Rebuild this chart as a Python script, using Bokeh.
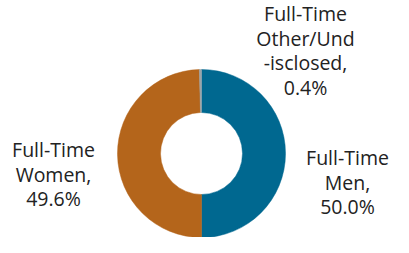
import math
from bokeh.plotting import figure
from bokeh.models import Range1d
from bokeh.core.properties import value
from bokeh.embed import file_html
from bokeh.resources import INLINE

categories = ["Men", "Women", "Other/Undisclosed"]
shares = [50.0, 49.6, 0.4]
colors = ["#006890", "#b4651b", "#9aa4aa"]
label_lines = [
    ["Full-Time", "Men,", "50.0%"],
    ["Full-Time", "Women,", "49.6%"],
    ["Full-Time", "Other/Und", "-isclosed,", "0.4%"],
]
label_x = [355, 61, 313]
label_top = [165, 157, 21]  # y of first line, measured from the top

# data coordinates are chosen so that 1 unit = 1 screen pixel
p = figure(width=393, height=237, output_backend="svg", toolbar_location=None,
           x_range=Range1d(8, 401), y_range=Range1d(0, 237), min_border=0)
p.axis.visible = False
p.grid.visible = False
p.outline_line_color = None
p.background_fill_color = None
p.border_fill_color = None

def Y(py):
    return 245 - py

cx, cy = 209, 161
total = sum(shares)
start = math.pi / 2
starts, ends = [], []
for s in shares:
    e = start - 2 * math.pi * s / total
    starts.append(start)
    ends.append(e)
    start = e

p.annular_wedge(x=[cx] * 3, y=[Y(cy)] * 3, inner_radius=41, outer_radius=84,
                start_angle=starts, end_angle=ends, direction="clock",
                fill_color=colors, line_color=colors, line_width=0.5)

for lines, x, top in zip(label_lines, label_x, label_top):
    for i, t in enumerate(lines):
        p.text(x=[x], y=[Y(top + 24.5 * i)], text=[t], text_align="center",
               text_baseline="middle", text_font=value("Open Sans"),
               text_font_size="19.5px", text_color="#222222")

open("out.html", "w").write(file_html(p, INLINE))
